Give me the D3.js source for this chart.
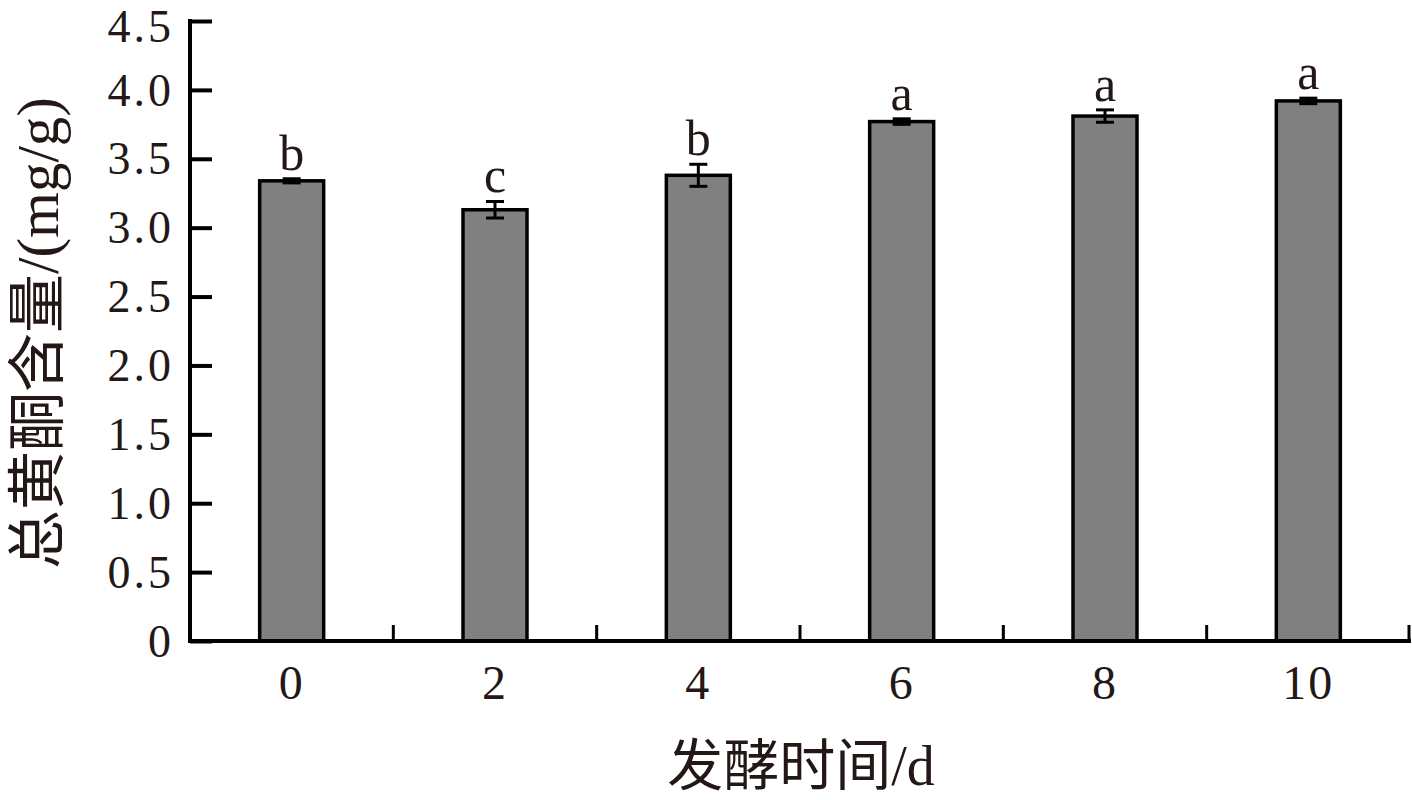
<!DOCTYPE html>
<html><head><meta charset="utf-8">
<script src="https://cdn.jsdelivr.net/npm/d3@7"></script>
<style>
html,body{margin:0;padding:0;background:#fff;}
svg{display:block;}
text{fill:#231815;font-family:"Liberation Serif","Noto Sans CJK SC",serif;}
</style></head>
<body>
<svg id="chart" width="1412" height="800"></svg>
<script>
const categories = ["0","2","4","6","8","10"];
const values = [3.34, 3.13, 3.38, 3.77, 3.81, 3.92];
const errors = [0.015, 0.06, 0.08, 0.02, 0.045, 0.02];
const letters = ["b","c","b","a","a","a"];
const yTicks = [0,0.5,1.0,1.5,2.0,2.5,3.0,3.5,4.0,4.5];
const yTickLabels = ["0","0.5","1.0","1.5","2.0","2.5","3.0","3.5","4.0","4.5"];
const xTitle = "发酵时间/d";
const yTitle = "总黄酮含量/(mg/g)";

(function(){
const svg = d3.select("#chart");
const pL = 190, pR = 1410, pT = 21, pB = 641;
const x = d3.scaleBand().domain(categories).range([pL, pR]).paddingInner(0).paddingOuter(0);
const y = d3.scaleLinear().domain([0, 4.5]).range([pB, pT]);
const barW = 64;
const ink = "#000";

// bars
svg.append("g").selectAll("rect").data(values).join("rect")
  .attr("x", (d,i) => x(categories[i]) + x.bandwidth()/2 - barW/2)
  .attr("y", d => y(d))
  .attr("width", barW)
  .attr("height", d => pB - y(d))
  .attr("fill", "#808080")
  .attr("stroke", ink)
  .attr("stroke-width", 3.5);

// error bars
const eg = svg.append("g").attr("stroke", ink).attr("stroke-width", 3);
values.forEach((v,i) => {
  const cx = x(categories[i]) + x.bandwidth()/2;
  const y1 = y(v + errors[i]), y2 = y(v - errors[i]);
  eg.append("line").attr("x1",cx).attr("x2",cx).attr("y1",y1).attr("y2",y2);
  eg.append("line").attr("x1",cx-9).attr("x2",cx+9).attr("y1",y1).attr("y2",y1);
  eg.append("line").attr("x1",cx-9).attr("x2",cx+9).attr("y1",y2).attr("y2",y2);
});

// significance letters
svg.append("g").selectAll("text").data(letters).join("text")
  .attr("x", (d,i) => x(categories[i]) + x.bandwidth()/2)
  .attr("y", (d,i) => y(values[i] + errors[i]) - 9)
  .attr("text-anchor","middle")
  .style("font-size","50px")
  .text(d => d);

// y axis
const yAxis = d3.axisRight(y).tickValues(yTicks).tickSize(22).tickFormat("");
const gy = svg.append("g").attr("transform", `translate(${pL},0)`).call(yAxis);
gy.select(".domain").remove();
gy.selectAll(".tick line").attr("stroke", ink).attr("stroke-width", 4);
svg.append("line").attr("x1",pL).attr("x2",pL).attr("y1",pT-2).attr("y2",pB+2)
  .attr("stroke",ink).attr("stroke-width",4);
svg.append("g").selectAll("text").data(yTicks).join("text")
  .attr("x", pL - 16)
  .attr("y", d => Math.max(y(d), 26))
  .attr("dy","0.34em")
  .attr("text-anchor","end")
  .style("font-size","46px")
  .style("letter-spacing","3px")
  .text((d,i) => yTickLabels[i]);

// x axis
const boundaries = categories.map(c => x(c) + x.bandwidth());
const gx = svg.append("g");
gx.append("line").attr("x1",pL-2).attr("x2",pR+1).attr("y1",pB).attr("y2",pB)
  .attr("stroke",ink).attr("stroke-width",4);
gx.selectAll("line.t").data(boundaries).join("line").attr("class","t")
  .attr("x1", d => Math.min(d, pR-1)).attr("x2", d => Math.min(d, pR-1))
  .attr("y1", pB).attr("y2", pB - 16)
  .attr("stroke", ink).attr("stroke-width", 3);
gx.selectAll("text").data(categories).join("text")
  .attr("x", d => x(d) + x.bandwidth()/2)
  .attr("y", 699)
  .attr("text-anchor","middle")
  .style("font-size","48px")
  .style("letter-spacing","2px")
  .text(d => d);

// titles
svg.append("text").attr("x", 801).attr("y", 785).attr("text-anchor","middle")
  .style("font-size","56px").text(xTitle);
svg.append("text").attr("transform","translate(58,333) rotate(-90)").attr("text-anchor","middle")
  .style("font-size","59px").text(yTitle);
})();
</script>
</body></html>
